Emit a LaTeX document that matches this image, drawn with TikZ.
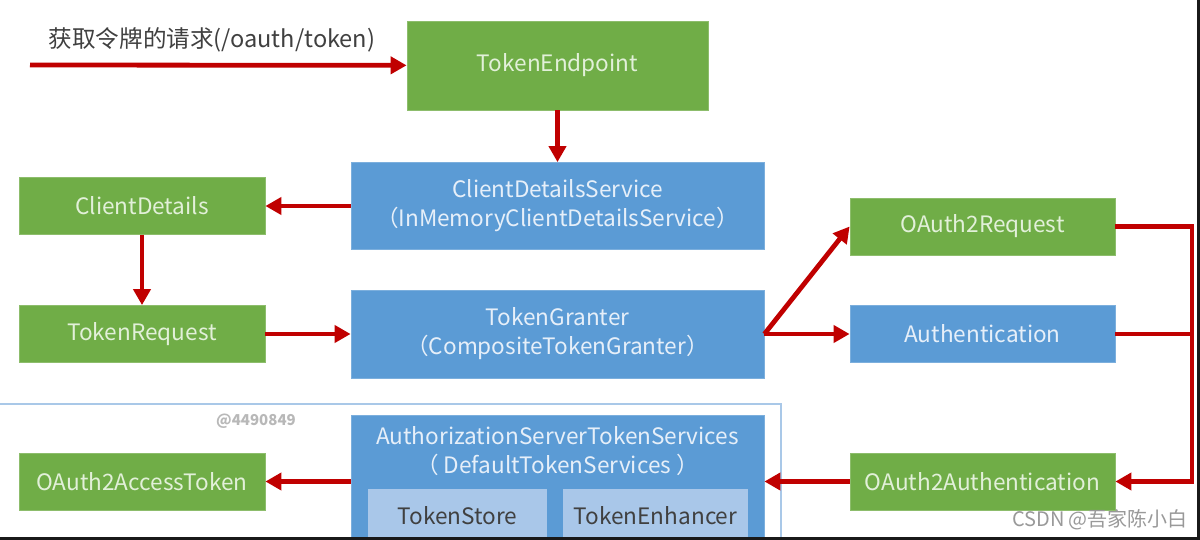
\documentclass[tikz,border=0pt]{standalone}
\usepackage{fontspec}
\setmainfont{Noto Sans CJK SC}
\usetikzlibrary{arrows.meta,positioning}

\definecolor{boxgreen}{HTML}{70AD47}
\definecolor{boxblue}{HTML}{5B9BD5}
\definecolor{innerblue}{HTML}{A9C7E9}
\definecolor{arrowred}{HTML}{C00000}
\definecolor{greentext}{HTML}{E2F0D9}
\definecolor{bluetext}{HTML}{E6EFF9}
\definecolor{framelight}{HTML}{A9C8E8}
\definecolor{labelgray}{HTML}{404040}

\begin{document}
\begin{tikzpicture}[x=0.5pt, y=-0.5pt,
    gbox/.style={draw=boxgreen!80!white, fill=boxgreen, text=greentext, inner sep=0pt,
                 minimum height=28.5pt, font=\fontsize{11.3}{14.5}\selectfont},
    bbox/.style={draw=boxblue!80!white, fill=boxblue, text=bluetext, inner sep=0pt, align=center,
                 minimum height=28.5pt, font=\fontsize{11.3}{14.5}\selectfont},
    ibox/.style={fill=innerblue, text=labelgray, inner sep=0pt, minimum height=26pt,
                 font=\fontsize{11.3}{14.5}\selectfont},
    arr/.style={draw=arrowred, line width=2.4pt, -{Triangle[length=8pt,width=8.5pt]}},
    rail/.style={draw=arrowred, line width=2.4pt}
  ]
  \clip (0,0) rectangle (1200,540);
  \fill[white] (0,0) rectangle (1200,540);

  % Request
  \coordinate (req) at (30,65);
  \node (reqlabel) [text=labelgray, font=\fontsize{11.8}{14}\selectfont] at (212,40) {获取令牌的请求(/oauth/token)};

  % Endpoint
  \node (endpoint) [gbox, minimum width=150.5pt, minimum height=44.5pt] at (557.5,65.5) {TokenEndpoint};

  % Client details
  \node (cdsvc) [bbox, minimum width=206.5pt, minimum height=43.5pt] at (557.5,206) {ClientDetailsService\\（InMemoryClientDetailsService）};
  \node (cdetails) [gbox, minimum width=123pt] at (142,206) {ClientDetails};
  \node (treq) [gbox, minimum width=123pt] at (142,334) {TokenRequest};

  % Granter
  \node (granter) [bbox, minimum width=206.5pt, minimum height=44pt] at (557.5,334) {TokenGranter\\（CompositeTokenGranter）};
  \node (oreq) [gbox, minimum width=132.5pt] at (982.5,226.5) {OAuth2Request};
  \node (authn) [bbox, minimum width=132.5pt] at (982.5,334) {Authentication};
  \node (oauthn) [gbox, minimum width=132.5pt] at (982.5,481.5) {OAuth2Authentication};
  \coordinate (bend) at (1192,226.5);

  % Token services
  \draw[framelight, line width=0.8pt] (-5,404) rectangle (781,600);
  \node (wm) [text=black!28, font=\bfseries\fontsize{7.5}{9}\selectfont] at (256,421) {@4490849};
  \node (tsvc) [bbox, minimum width=206.5pt, minimum height=75pt, anchor=north] at (557.5,415) {};
  \node (tsvctext) [text=bluetext, align=center, font=\fontsize{11.3}{14.5}\selectfont] at (557.5,451.5) {AuthorizationServerTokenServices\\（ DefaultTokenServices ）};
  \node (tstore) [ibox, minimum width=89.5pt, anchor=north] at (457.5,489) {TokenStore};
  \node (tenh) [ibox, minimum width=92.5pt, anchor=north] at (655.5,489) {TokenEnhancer};
  \node (atoken) [gbox, minimum width=123pt] at (142,481.5) {OAuth2AccessToken};

  % Connections
  \draw[arr] (req) -- (endpoint);
  \draw[arr] (endpoint) -- (cdsvc);
  \draw[arr] (cdsvc) -- (cdetails);
  \draw[arr] (cdetails) -- (treq);
  \draw[arr] (treq) -- (granter);
  \draw[arr] (granter.east) -- (oreq.west);
  \draw[arr] (granter.east) -- (authn.west);
  \draw[arr] (oreq.east) -- (bend) |- (oauthn.east);
  \draw[rail] (authn.east) -- (authn.east -| bend);
  \draw[arr] (oauthn) -- (oauthn.west -| tsvc.east);
  \draw[arr] (tsvc.west |- atoken) -- (atoken);

  % Screen edges
  \node (csdn) [text=black!40, font=\fontsize{10}{12}\selectfont] at (1100,520) {CSDN @吾家陈小白};
  \fill[black!90] (1197,0) rectangle (1200,540);
  \fill[black!90] (0,537) rectangle (1200,540);
\end{tikzpicture}
\end{document}
